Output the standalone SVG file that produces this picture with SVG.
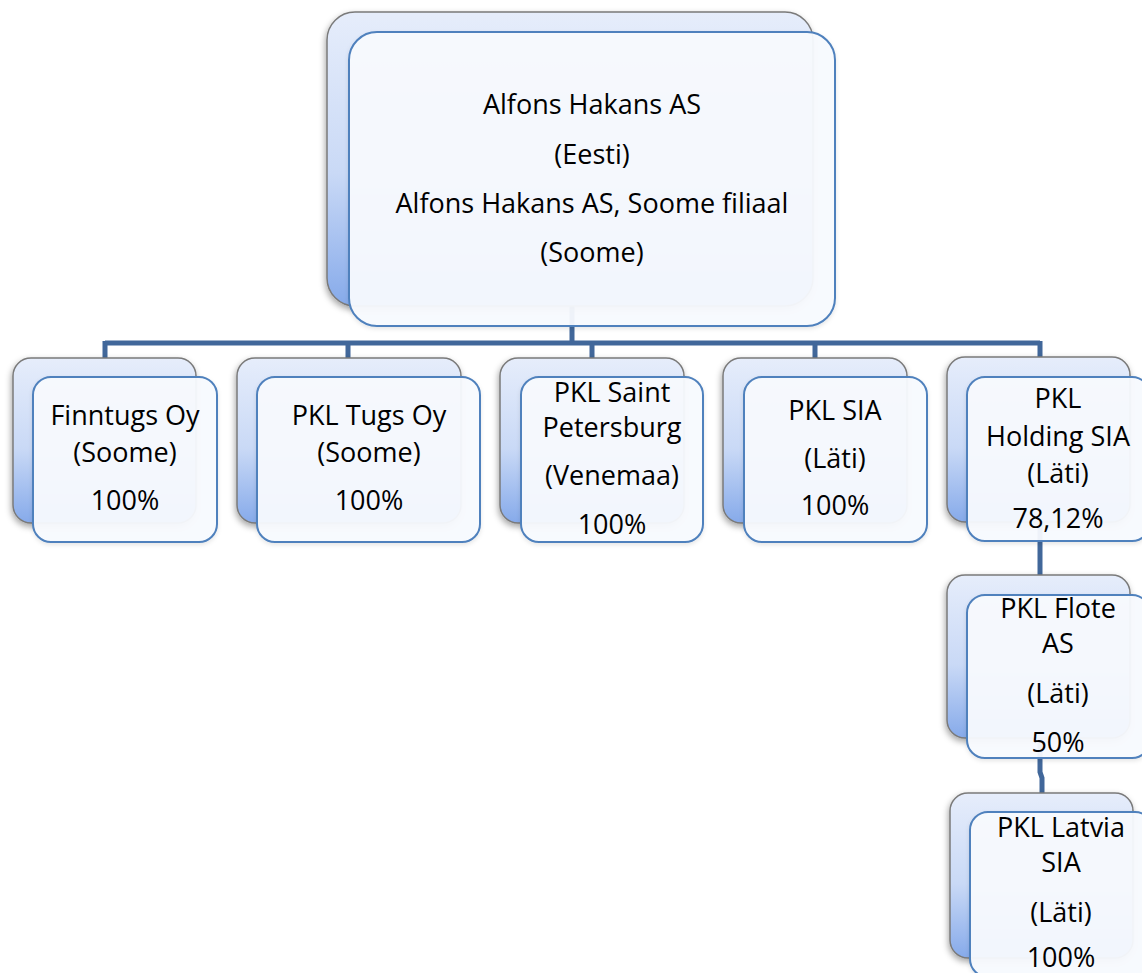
<svg xmlns="http://www.w3.org/2000/svg" width="1142" height="973" viewBox="0 0 1142 973">
<defs>
<linearGradient id="gb" x1="0" y1="0" x2="0" y2="1">
<stop offset="0" stop-color="#e6edfb"/>
<stop offset="0.55" stop-color="#c9d9f6"/>
<stop offset="1" stop-color="#86aaea"/>
</linearGradient>
<filter id="sh" x="-10%" y="-10%" width="125%" height="125%">
<feDropShadow dx="-1" dy="3" stdDeviation="3" flood-color="#000" flood-opacity="0.35"/>
</filter>
<filter id="sh2" x="-10%" y="-10%" width="125%" height="125%">
<feDropShadow dx="0" dy="2" stdDeviation="2" flood-color="#000" flood-opacity="0.1"/>
</filter>
</defs>
<style>
.back{fill:url(#gb);stroke:#7a7a7a;stroke-width:1.5;filter:url(#sh)}
.front{fill:#f8fafe;fill-opacity:0.95;stroke:#4f81bd;stroke-width:2;filter:url(#sh2)}
.t{font-family:"Open Sans","Noto Sans",sans-serif;font-size:27px;fill:#000;text-anchor:middle}
.conn{fill:none;stroke:#41679a;stroke-width:5}
</style>
<rect width="1142" height="973" fill="#fff"/>
<g id="connectors">
<path class="conn" d="M572 305 V343 M105 343 H1040 M105 341 V358 M348 341 V358 M592 341 V358 M815 341 V358 M1040 341 V358"/>
<path class="conn" d="M1040 522 V575"/>
<path class="conn" d="M1040 738 V772 L1042 778 V793"/>
</g>
<g id="n-top">
<rect class="back" x="327" y="12" width="486" height="294" rx="28"/>
<rect class="front" x="349" y="32" width="486" height="294" rx="28"/>
<text class="t" x="592" y="114">Alfons Hakans AS</text>
<text class="t" x="592" y="164">(Eesti)</text>
<text class="t" x="592" y="213">Alfons Hakans AS, Soome filiaal</text>
<text class="t" x="592" y="262">(Soome)</text>
</g>
<g id="n-finntugs">
<rect class="back" x="13" y="358" width="183" height="165" rx="18"/>
<rect class="front" x="33" y="377" width="184" height="165" rx="18"/>
<text class="t" x="125" y="425">Finntugs Oy</text>
<text class="t" x="125" y="462">(Soome)</text>
<text class="t" x="125" y="510">100%</text>
</g>
<g id="n-pkltugs">
<rect class="back" x="237" y="358" width="224" height="165" rx="18"/>
<rect class="front" x="257" y="377" width="223" height="165" rx="18"/>
<text class="t" x="369" y="425">PKL Tugs Oy</text>
<text class="t" x="369" y="462">(Soome)</text>
<text class="t" x="369" y="510">100%</text>
</g>
<g id="n-spb">
<rect class="back" x="500" y="358" width="184" height="165" rx="18"/>
<rect class="front" x="521" y="377" width="182" height="165" rx="18"/>
<text class="t" x="612" y="402">PKL Saint</text>
<text class="t" x="612" y="437">Petersburg</text>
<text class="t" x="612" y="485">(Venemaa)</text>
<text class="t" x="612" y="534">100%</text>
</g>
<g id="n-pklsia">
<rect class="back" x="723" y="358" width="184" height="165" rx="18"/>
<rect class="front" x="744" y="377" width="183" height="165" rx="18"/>
<text class="t" x="835" y="420">PKL SIA</text>
<text class="t" x="835" y="468">(Läti)</text>
<text class="t" x="835" y="515">100%</text>
</g>
<g id="n-holding">
<rect class="back" x="947" y="357" width="183" height="165" rx="18"/>
<rect class="front" x="967" y="377" width="183" height="164" rx="18"/>
<text class="t" x="1058" y="408">PKL</text>
<text class="t" x="1058" y="446">Holding SIA</text>
<text class="t" x="1058" y="483">(Läti)</text>
<text class="t" x="1058" y="528">78,12%</text>
</g>
<g id="n-flote">
<rect class="back" x="947" y="575" width="183" height="163" rx="18"/>
<rect class="front" x="967" y="595" width="183" height="163" rx="18"/>
<text class="t" x="1058" y="618">PKL Flote</text>
<text class="t" x="1058" y="653">AS</text>
<text class="t" x="1058" y="703">(Läti)</text>
<text class="t" x="1058" y="752">50%</text>
</g>
<g id="n-latvia">
<rect class="back" x="950" y="793" width="183" height="165" rx="18"/>
<rect class="front" x="970" y="812" width="183" height="165" rx="18"/>
<text class="t" x="1061" y="837">PKL Latvia</text>
<text class="t" x="1061" y="872">SIA</text>
<text class="t" x="1061" y="922">(Läti)</text>
<text class="t" x="1061" y="967">100%</text>
</g>
</svg>
